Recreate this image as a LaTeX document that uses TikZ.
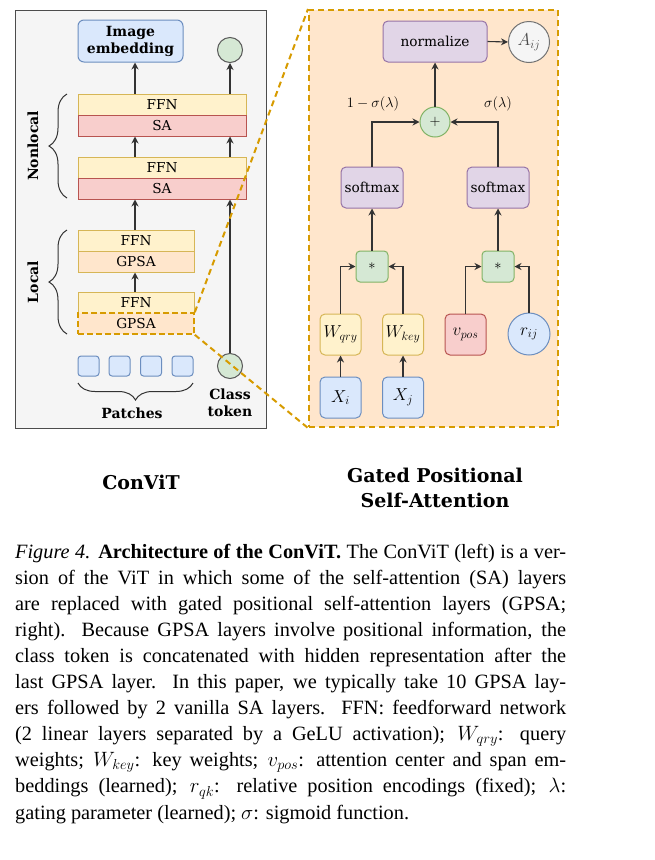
\documentclass[tikz,border=0pt]{standalone}
\usepackage{fontspec}
\setmainfont{Liberation Serif}
\newfontfamily\dvs{DejaVu Serif}
\usetikzlibrary{arrows.meta,decorations.pathreplacing,calc}
\definecolor{panelgray}{HTML}{F5F5F5}
\definecolor{bluef}{HTML}{DAE8FC}\definecolor{blued}{HTML}{6C8EBF}
\definecolor{yelf}{HTML}{FFF2CC}\definecolor{yeld}{HTML}{D6B656}
\definecolor{redf}{HTML}{F8CECC}\definecolor{redd}{HTML}{B85450}
\definecolor{orf}{HTML}{FFE6CC}\definecolor{ord}{HTML}{D79B00}
\definecolor{grf}{HTML}{D5E8D4}\definecolor{grd}{HTML}{82B366}
\definecolor{puf}{HTML}{E1D5E7}\definecolor{pud}{HTML}{9673A6}
\definecolor{lineg}{HTML}{333333}
\tikzset{
  lbl/.style={font=\dvs\fontsize{13.7}{16}\selectfont},
  blbl/.style={font=\dvs\bfseries\fontsize{14}{17}\selectfont},
  layer/.style={draw, line width=1pt, inner sep=0, minimum height=21, lbl},
  ffnbox/.style={layer, fill=yelf, draw=yeld},
  sabox/.style={layer, fill=redf, draw=redd},
  gpsabox/.style={layer, fill=orf, draw=yeld},
  rbox/.style={draw, line width=1pt, rounded corners=5, inner sep=0},
  arr/.style={draw=lineg, line width=1.1pt, -{Stealth[length=7pt,width=7pt]}},
  brc/.style={draw=lineg, line width=1pt, decorate},
  dashline/.style={draw=ord, line width=2pt, dash pattern=on 6pt off 4pt},
  mth/.style={font=\fontsize{16.5}{18}\selectfont, inner sep=0},
}
\begin{document}
\begin{tikzpicture}[x=1pt,y=-1pt]
\useasboundingbox (0,0) rectangle (654,860);
% ---------- left panel ----------
\node[draw=black!70, fill=panelgray, line width=1pt, minimum width=251, minimum height=418, inner sep=0] (lpanel) at (140.5,219) {};
\coordinate (colL) at (135,0);
\coordinate (colR) at (230,0);
\node[rbox, rounded corners=6, fill=bluef, draw=blued, minimum width=105, minimum height=42, blbl, align=center] (emb) at (130.5,41) {Image\\embedding};
\node[circle, draw=black!65, fill=grf, line width=1pt, minimum size=25, inner sep=0] (clsTop) at (230,50) {};
\node[ffnbox, minimum width=168] (ffnA) at (162,104.5) {FFN};
\node[sabox, minimum width=168] (saA) at (162,125.5) {SA};
\node[ffnbox, minimum width=168] (ffnB) at (162,167.5) {FFN};
\node[sabox, minimum width=168] (saB) at (162,188.5) {SA};
\node[ffnbox, minimum width=116] (ffnC) at (136,240.5) {FFN};
\node[gpsabox, minimum width=116] (gpsaC) at (136,261.5) {GPSA};
\node[ffnbox, minimum width=116] (ffnD) at (136,302.5) {FFN};
\node[gpsabox, minimum width=116, draw=ord, line width=1.6pt, dash pattern=on 6pt off 3pt] (gpsaD) at (136,323.5) {GPSA};
% braces and side labels
\draw[brc, decoration={brace, amplitude=18pt}] (67,198) -- (67,94);
\draw[brc, decoration={brace, amplitude=18pt}] (67,334) -- (67,230);
\node[blbl, rotate=90] (nonlocal) at (33,146) {Nonlocal};
\node[blbl, rotate=90] (local) at (33,282) {Local};
% patches
\foreach \i/\x in {1/88.5,2/119.5,3/151,4/182.5}{
  \node[rbox, rounded corners=3, fill=bluef, draw=blued, minimum width=21, minimum height=20] (p\i) at (\x,366) {};
}
\draw[brc, decoration={brace, amplitude=17pt}] (193,383) -- (78,383);
\node[blbl] (patches) at (132,413) {Patches};
\node[circle, draw=black!65, fill=grf, line width=1pt, minimum size=25, inner sep=0] (cls) at (230,366) {};
\node[blbl, align=center] (clslbl) at (230,403) {Class\\token};
% left arrows
\draw[arr] (ffnA.north -| colL) -- (emb.south -| colL);
\draw[arr] (ffnA.north -| colR) -- (clsTop.south);
\draw[arr] (ffnB.north -| colL) -- (saA.south -| colL);
\draw[arr] (ffnB.north -| colR) -- (saA.south -| colR);
\draw[arr] (ffnC.north -| colL) -- (saB.south -| colL);
\draw[arr] (cls.north) -- (saB.south -| colR);
\draw[arr] (ffnD.north -| colL) -- (gpsaC.south -| colL);
% ---------- right panel ----------
\node[fill=orf, draw=ord, line width=2pt, dash pattern=on 6pt off 4pt, minimum width=249, minimum height=417, inner sep=0] (rpanel) at (433.5,218.5) {};
\node[rbox, fill=puf, draw=pud, minimum width=104, minimum height=41, lbl] (norm) at (435,41.5) {normalize};
\node[circle, draw=black!55, fill=panelgray, line width=1pt, minimum size=41, inner sep=0, text=black!70, font=\fontsize{16.5}{18}\selectfont] (Aij) at (529,42) {$A_{ij}$};
\node[circle, draw=grd, fill=grf, line width=1pt, minimum size=30, inner sep=0, font=\fontsize{15}{18}\selectfont] (plus) at (435,122) {$+$};
\node[rbox, fill=puf, draw=pud, minimum width=62, minimum height=41, lbl] (softL) at (372,187.5) {softmax};
\node[rbox, fill=puf, draw=pud, minimum width=62, minimum height=41, lbl] (softR) at (498,187.5) {softmax};
\node[rbox, rounded corners=4, fill=grf, draw=grd, minimum width=32, minimum height=31, font=\fontsize{15}{18}\selectfont] (starL) at (372,266.5) {$*$};
\node[rbox, rounded corners=4, fill=grf, draw=grd, minimum width=32, minimum height=31, font=\fontsize{15}{18}\selectfont] (starR) at (498,266.5) {$*$};
\node[rbox, fill=yelf, draw=yeld, minimum width=41, minimum height=41, mth] (Wq) at (340.5,334.5) {$W_{qry}$};
\node[rbox, fill=yelf, draw=yeld, minimum width=41, minimum height=41, mth] (Wk) at (403,334.5) {$W_{key}$};
\node[rbox, fill=redf, draw=redd, minimum width=41, minimum height=41, mth] (vpos) at (465.5,334.5) {$v_{pos}$};
\node[circle, draw=blued, fill=bluef, line width=1pt, minimum size=42, mth] (rij) at (529,334) {$r_{ij}$};
\node[rbox, fill=bluef, draw=blued, minimum width=41, minimum height=41, font=\fontsize{18}{20}\selectfont] (Xi) at (340.5,397.5) {$X_i$};
\node[rbox, fill=bluef, draw=blued, minimum width=41, minimum height=41, font=\fontsize{18}{20}\selectfont] (Xj) at (403,397.5) {$X_j$};
\node[font=\fontsize{15}{18}\selectfont] (lblL) at (373,104) {$1-\sigma(\lambda)$};
\node[font=\fontsize{15}{18}\selectfont] (lblR) at (498,104) {$\sigma(\lambda)$};
\draw[arr] (Xi.north) -- (Wq.south);
\draw[arr] (Xj.north) -- (Wk.south);
\draw[arr] (Wq.north) |- (starL.west);
\draw[arr] (Wk.north) |- (starL.east);
\draw[arr] (vpos.north) |- (starR.west);
\draw[arr] (rij.north) |- (starR.east);
\draw[arr] (starL.north) -- (softL.south);
\draw[arr] (starR.north) -- (softR.south);
\draw[arr] (softL.north) |- (plus.west);
\draw[arr] (softR.north) |- (plus.east);
\draw[arr] (plus.north) -- (norm.south);
\draw[arr] (norm.east) -- (Aij.west);
% zoom connectors
\draw[dashline] (gpsaD.north east) -- (rpanel.north west);
\draw[dashline] (gpsaD.south east) -- (rpanel.south west);
% ---------- titles ----------
\node[font=\dvs\bfseries\fontsize{19}{25}\selectfont] (t1) at (141,482) {ConViT};
\node[font=\dvs\bfseries\fontsize{19}{25}\selectfont, align=center] (t2) at (435,487.5) {Gated Positional\\Self-Attention};
% ---------- caption ----------
\node[anchor=base west, inner sep=0, text width=551pt, align=justify,
      font=\fontsize{20.3}{26.1}\selectfont] (cap) at (15,558) {%
\hyphenpenalty=10000 \exhyphenpenalty=10000 \tolerance=10000
\textit{Figure 4.} \textbf{Architecture of the ConViT.} The ConViT (left) is a ver-\linebreak
sion of the ViT in which some of the self-attention (SA) layers\linebreak
are replaced with gated positional self-attention layers (GPSA;\linebreak
right). Because GPSA layers involve positional information, the\linebreak
class token is concatenated with hidden representation after the\linebreak
last GPSA layer.\ \ In this paper, we typically take 10 GPSA lay-\linebreak
ers followed by 2 vanilla SA layers. FFN: feedforward network\linebreak
(2 linear layers separated by a GeLU activation); $W_{qry}$: query\linebreak
weights; $W_{key}$: key weights; $v_{pos}$: attention center and span em-\linebreak
beddings (learned); $r_{qk}$: relative position encodings (fixed); $\lambda$:\linebreak
gating parameter (learned); $\sigma$: sigmoid function.};
\end{tikzpicture}
\end{document}
